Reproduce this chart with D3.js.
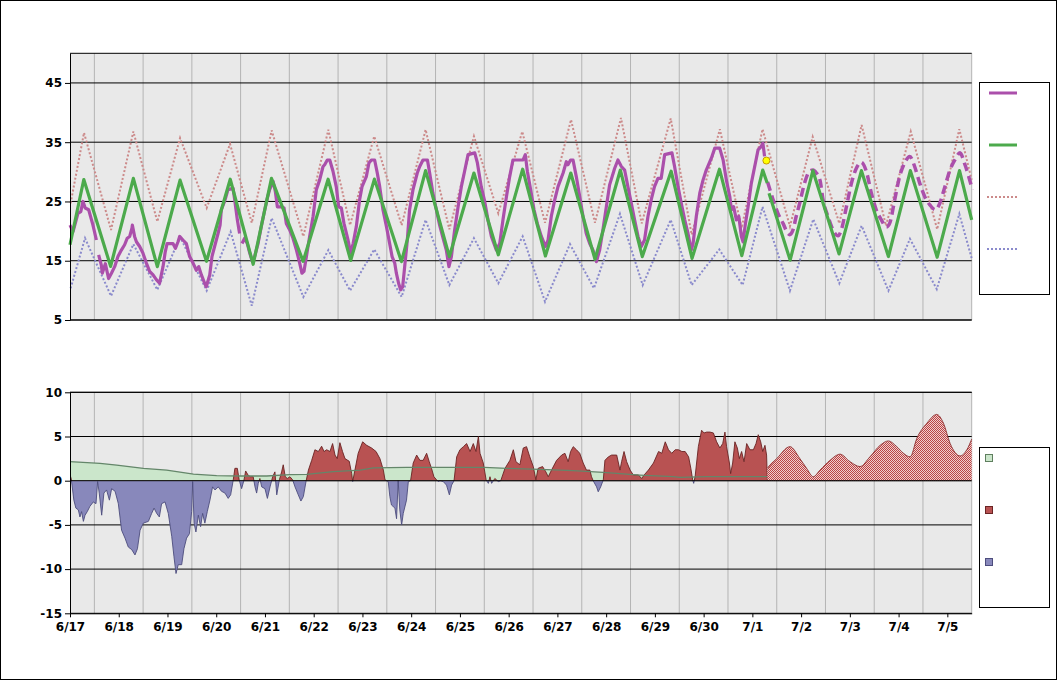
<!DOCTYPE html>
<html><head><meta charset="utf-8">
<script src="https://cdn.jsdelivr.net/npm/d3@7"></script>
<style>
body{margin:0;background:#fff}
svg{display:block}
text{font-family:"DejaVu Sans",Verdana,sans-serif;font-weight:bold;font-size:12px;fill:#000}
</style>
</head><body>
<svg id="c" width="1058" height="681"></svg>
<script>
// ---- data: [hours since 6/17 00:00, value] ----
const obsTemp = [[0,21.0],[1.5,19.9],[2.6,21.3],[3.9,23.0],[5.3,23.3],[6.4,25.0],[7.5,23.9],[9.2,23.6],[11.3,21.0],[13.0,18.5],null,
[14.1,16.0],[15.4,14.3],[15.9,12.9],[17.4,14.5],[19.0,12.0],[20.4,12.9],[22.0,14.0],[23.6,15.7],[25.3,16.8],[26.9,17.7],[28.2,18.8],[29.4,19.1],[30.5,20.5],[30.7,21.0],[31.8,19.1],[32.7,18.2],[34.3,17.4],[35.9,16.3],[37.6,14.6],[39.2,13.2],[40.9,12.6],[42.5,11.8],[44.1,11.2],[45.8,14.0],[46.9,16.5],[47.8,17.9],[49.1,17.9],[50.7,17.9],[51.9,17.1],[53.2,18.2],[54.0,19.1],[55.6,18.5],[57.3,17.9],[58.9,15.7],[60.6,14.6],[62.2,13.4],[63.4,14.0],[64.7,12.6],[66.3,11.2],[67.1,10.6],[68.8,12.6],[69.9,15.7],[71.2,17.4],[72.9,19.6],[73.9,21.0],[74.5,23.6],[76.1,25.0],[77.8,27.0],[80.3,27.2],[81.1,25.3],[82.4,21.9],[83.5,19.6],null,
[84.7,17.9],[86.0,18.8],[87.3,17.9],[88.5,16.3],[89.8,14.85],[90.9,15.7],[92.6,17.9],[94.2,20.8],[95.9,23.6],[97.2,25.6],[98.3,27.0],[100,28.4],[101.1,26.7],[102.1,24.1],[104.1,24.1],[105.4,23.9],[106.5,21.3],[108.2,20.2],[109.8,18.8],[111.5,16.8],[113.1,14.6],[114.2,12.9],[115.2,13.2],[116.4,15.7],[118.0,19.1],[119.7,22.5],[121.3,27.0],[122.9,28.6],[124.6,30.9],[125.4,31.2],[126.7,32.0],[127.9,32.0],[129.5,30.1],[131.1,27.5],[132.3,24.1],[133.6,23.9],[134.9,21.3],[136.9,18.5],[138.2,16.3],[139.4,17.9],[141.0,20.8],[142.6,25.3],[143.8,27.5],[145.9,29.2],[147.2,31.5],[148.4,32.0],[150,32.0],[151.3,29.8],[152.5,27.5],[154.1,23.6],[155.8,20.8],[157.4,17.9],[158.6,15.7],[159.9,14.6],[160.7,12.9],[161.8,11.2],[162.8,10.1],[163.8,10.6],[164.8,14.0],[166.1,18.5],[167.2,23.6],[168.9,27.0],[171,29.8],[172.2,30.9],[173.8,32.0],[176.0,32.0],[177.1,29.8],[178.7,26.4],[180.4,23.6],[182.0,21.0],[183.7,18.8],[185.3,16.8],[186.6,14.0],[187.8,15.7],[189.4,20.2],[191.1,24.1],[192.7,27.5],[194.3,30.1],[196.0,32.9],[199.3,33.2],[200.6,31.5],[202.5,27.5],[204.2,25.0],[205.8,21.9],[207.5,19.1],[209.9,16.8],[211.6,17.9],[213.2,21.9],[214.9,25.8],[216.5,29.2],[218.1,32.0],[223.1,32.0],[224.2,32.9],[225.2,30.1],[226.8,27.0],[228.5,23.6],[230.1,21.3],[232.1,19.1],[234.1,17.4],[235.4,18.5],[237,22.5],[238.7,25.3],[240.3,27.5],[242.8,29.8],[244.4,31.7],[245.2,31.2],[246.5,32.0],[247.7,32.0],[249.3,29.2],[251.0,25.8],[252.6,22.5],[254.2,19.6],[255.9,17.9],[257.5,16.8],[259.2,14.85],[260.8,16.8],[262.4,20.2],[264.1,24.1],[265.7,27.8],[268.2,30.6],[269.8,32.0],[271.5,30.9],[273.1,30.3],[274.7,27.5],[276.4,24.7],[278.0,21.9],[279.7,19.1],[281.3,17.4],[282.9,18.5],[284.6,22.5],[286.2,25.3],[287.8,27.5],[289.5,28.9],[291.1,28.9],[292.8,32.9],[296.4,33.2],[297.7,30.9],[299.4,27.5],[301,24.7],[302.7,21.9],[304.3,19.6],[305.9,16.8],[306.8,17.9],[308.4,22.5],[310.1,26.4],[311.7,28.6],[313.3,30.3],[315.8,32.3],[317.5,34.0],[319.9,34.0],[321.6,32.0],[323.2,28.6],[324.9,25.8],[325.7,23.6],[326.8,24.1],[328.1,21.9],[329.3,22.5],[330.6,19.1],[331.4,18.2],[332.6,21.3],[333.9,24.1],[335.5,28.1],[337.5,31.5],[338.8,33.7],[340.4,34.3],[341.2,34.8],[342.0,32.6]];

const forecastTemp = [[343.5,28.3],[346.2,25.3],[348.6,23.0],[351.1,21.3],[353.5,19.6],[354.4,19.4],[356,20.2],[357.6,22.5],[359.3,24.7],[361.7,28.1],[364.2,30.1],[365.9,30.3],[367.5,29.8],[369.3,28.6],[370.8,25.3],[373.2,22.5],[375.7,20.2],[378.2,19.2],[379.8,20.2],[382.3,24.1],[384.8,28.1],[387.2,30.6],[389.6,31.6],[392.1,30.1],[394.6,26.4],[397.0,23.6],[399.5,21.9],[402,20.7],[403.6,21.3],[406.1,25.3],[408.5,29.2],[411,31.5],[413.5,32.6],[415.9,30.9],[418.4,28.1],[420.9,25.8],[423.4,24.4],[426.2,23.6],[428.3,24.7],[430.8,27.5],[433.3,30.3],[435.7,32.0],[438.2,33.2],[440.7,31.2],[444.3,27.0]];

const currentTemp = [342.9, 31.9];

const normalObs = [[0,17.7],[6.8,28.7],[20.0,14.05],[31.2,28.9],[43,14.0],[54.2,28.6],[67.2,14.9],[78.9,28.75],[90.2,14.4],[99.2,28.9],[114.8,14.9],[127.1,28.75],[138.2,15.05],[149.9,28.77],[163.2,14.85],[175.1,30.2],[186.8,15.7],[198.9,29.8],[210.9,16.0],[222.9,30.45],[234.1,15.8],[246.6,29.8],[258.5,15.25],[271.0,30.3],[281.8,15.7],[296,30.1],[306.3,15.4],[319.8,30.45],[330.8,15.86],[341.1,30.3],[343.3,28.1]];
const normalFc = [[344.2,26.4],[354.6,15.1],[365.8,30.2],[378.7,16.15],[389.7,30.2],[403.0,15.7],[413.8,30.2],[427,15.6],[438,30.2],[444,21.9]];

const recordHigh = [[0.3,24.7],[6.9,36.6],[20.2,20.2],[31.2,36.8],[43,21.6],[54.2,35.7],[67.3,23.9],[78.8,34.7],[89.5,21.4],[99.3,37.0],[114.9,19.1],[127.2,37.1],[137.9,21.0],[149.8,36.0],[163.3,21.0],[175.1,37.1],[186.8,20.3],[198.9,36.0],[210.9,23.0],[222.7,36.8],[233.9,21.4],[246.7,38.8],[258.5,21.4],[271.3,39.1],[281.5,21.3],[295.8,39.0],[306.1,19.4],[320,37.2],[330.7,20.5],[341,37.2],[354.5,20.8],[365.7,35.9],[378.8,21.3],[389.8,37.9],[401.8,20.9],[414,36.8],[427,20.3],[437.9,37.2],[444,28.65]];

const recordLow = [[0.3,10.35],[7.4,18.8],[20.2,9.05],[31.2,17.8],[43,10.1],[54.2,19.0],[67.3,9.95],[79.1,19.9],[89.5,7.4],[99.3,22.2],[114.9,8.9],[127.2,16.8],[137.9,9.95],[149.8,16.9],[163.3,8.9],[175.1,21.9],[186.8,10.9],[198.9,18.8],[210.9,11.2],[222.9,19.1],[233.9,8.1],[246.2,17.8],[258,10.35],[270.8,22.9],[282,10.9],[295.8,21.9],[306.1,10.9],[319.7,16.9],[331.2,10.9],[341,24.1],[354.5,9.95],[366,22.0],[378.8,11.2],[389.8,20.9],[403,9.95],[413.6,18.7],[426.8,10.2],[437.9,22.9],[444,15.4]];

const departure = [[0,0.7],[0.6,0.2],[1.0,-0.5],[1.9,-2.2],[2.9,-3.1],[4.1,-3.3],[4.9,-4.1],[5.7,-3.5],[6.6,-4.6],[7.4,-3.9],[8.5,-3.5],[9.8,-2.9],[11.5,-2.4],[12.8,-2.6],[13.6,-0.1],[14.4,-1.4],[15.6,-3.9],[16.7,-1.4],[18.0,-1.05],[19.4,-2.2],[20.5,-0.9],[22.2,-1.2],[23.8,-2.6],[25.4,-5.6],[27.1,-6.5],[28.7,-7.5],[30.4,-7.8],[32,-8.4],[33.2,-7.7],[34.5,-5.6],[36.1,-4.8],[38.6,-4.6],[40.2,-3.7],[41.4,-3.1],[42.7,-3.7],[44.0,-4.1],[45.1,-2.6],[46.8,-2.4],[48.4,-3.7],[50.1,-6.3],[51.2,-8.6],[52.2,-10.5],[53.3,-9.5],[55.0,-9.5],[56.1,-7.7],[57.4,-6.5],[58.8,-6.0],[59.9,-3.5],[60.4,-0.1],[61.1,-4.8],[62.0,-5.8],[63.2,-3.9],[64.3,-5.2],[65.3,-3.7],[66.4,-4.8],[67.6,-3.5],[68.9,-2.2],[70.2,-0.7],[71.4,-1.05],[73,-0.7],[74.6,-1.2],[76.3,-1.4],[77.9,-2.0],[79.1,-1.6],[80.4,0.1],[81.2,1.4],[82.4,1.4],[83.3,0.1],[84.5,-0.9],[85.6,0],[86.5,1.1],[87.8,0.6],[88.9,0.45],[90.2,0.45],[91.1,-0.7],[91.9,-1.4],[92.7,-0.3],[93.5,0.25],[94.4,-0.7],[96.0,-0.9],[97.2,-2.0],[98.5,-0.7],[99.8,0.45],[100.9,1.0],[101.8,-1.6],[103.1,0.1],[104.2,1.0],[105.0,1.8],[106,0.45],[107,0.25],[108.3,0.45],[109.6,0.1],[110.8,-0.7],[112.4,-1.6],[113.7,-2.3],[114.9,-1.8],[116.2,-0.1],[117.4,1.2],[119,2.3],[120.6,3.5],[122.3,3.3],[123.9,3.9],[125.1,3.3],[126.4,3.5],[128,3.3],[129.3,4.2],[130.5,2.9],[131.6,2.5],[132.9,4.3],[134.2,3.3],[135.4,2.5],[137.5,2.2],[138.7,0.8],[139.2,-0.1],[140.3,1.2],[141.9,3.1],[144.1,4.4],[146.1,4.0],[148.5,3.7],[150.7,3.3],[152.6,2.5],[154.3,1.2],[155.1,0.1],[156.7,-0.1],[157.5,-1.8],[158.3,-2.75],[160,-3.1],[160.8,-4.3],[161.6,0],[162.4,-3.3],[163.3,-5.0],[164.1,-3.7],[165.7,-2.2],[166.6,-0.1],[167.7,0],[169,2.0],[170.7,2.9],[172.3,2.3],[173.9,2.3],[175.6,3.1],[176.9,2.15],[178,1.4],[179.2,0.45],[180.5,0.1],[181.3,-0.1],[182.2,0],[183.8,-0.1],[185.4,-0.5],[186.8,-1.6],[187.9,-0.5],[189.1,0],[190.4,2.7],[192,3.5],[193.7,3.85],[195.3,4.2],[197,3.3],[198.6,4.2],[199.9,3.3],[201.1,5.0],[201.9,3.1],[203.5,2.0],[204.9,0.1],[206,-0.3],[206.8,0.45],[207.6,-0.3],[209.2,0.25],[210.9,-0.1],[212.1,0],[214.2,1.4],[216.6,2.3],[218.3,3.5],[219.6,2.15],[221.5,1.8],[223.2,3.7],[224.8,3.85],[226.4,2.7],[228.1,1.6],[229.4,0.1],[230.5,1.4],[232.7,1.6],[234.3,1.0],[235.5,0.45],[237.1,1.2],[239.6,2.3],[242.1,2.9],[243.7,3.1],[245.3,2.15],[246.5,3.3],[247.8,3.85],[249.4,3.5],[251,3.1],[252.7,2.0],[254.3,1.2],[256,1.2],[256.8,0.45],[257.6,0],[259.3,-0.7],[260.1,-1.25],[261.3,-0.7],[262.6,0.1],[263.4,2.3],[265.1,2.7],[266.7,2.9],[269.2,2.9],[270.8,1.2],[271.6,2.15],[272.8,3.3],[274.1,2.15],[275.8,1.2],[277.4,0.65],[279.9,0.65],[281.5,0.25],[282.7,0.65],[284.8,1.2],[287.3,2.0],[289.8,3.3],[291.4,3.1],[293.1,4.4],[294.7,3.5],[296.3,3.1],[298,3.5],[299.6,3.5],[301.3,3.3],[302.9,3.3],[304.6,2.7],[305.7,1.4],[306.6,0.1],[307.1,-0.3],[307.8,0.45],[309.4,3.85],[311.0,5.7],[312.2,5.4],[313.5,5.5],[315.1,5.5],[316.8,5.4],[318.4,4.4],[320,3.7],[321.4,4.2],[322.5,5.5],[323.3,3.85],[324.7,2.0],[325.3,0.8],[326.3,2.0],[327.4,4.4],[328.6,3.7],[329.6,2.5],[330.7,3.3],[331.9,2.15],[333.2,4.2],[334.8,3.5],[336.5,3.5],[337.8,4.2],[338.9,5.2],[340.1,4.4],[341.1,3.3],[342.2,4.0],[343,2.9],[343.4,0]];

const forecastDeparture = [[343.4,0],[343.4,1.4],[348,2.5],[354.5,3.85],[359.4,2.5],[362.7,1.4],[366,0.45],[369.3,1.2],[374.2,2.3],[379.2,3.0],[384.1,2.15],[389,1.6],[393.9,2.7],[398.9,4.0],[403,4.5],[407.1,3.85],[410.4,3.1],[413.7,2.7],[417,4.8],[421.9,6.5],[426.8,7.5],[430.1,6.5],[433.4,4.2],[438.3,2.8],[441.6,3.5],[444,4.7]];

const meanDeparture = [[0,2.15],[14.8,1.96],[23,1.77],[36.1,1.4],[47.6,1.2],[60.8,0.75],[72.2,0.57],[83.7,0.53],[96.8,0.53],[108.3,0.68],[116.5,0.72],[129.6,1.02],[142.8,1.2],[149.4,1.45],[165.8,1.5],[182.2,1.5],[204,1.5],[215.2,1.4],[231.4,1.28],[247.8,1.13],[262.6,0.94],[280.6,0.64],[297,0.45],[300.4,0.38],[313.5,0.45],[343.2,0.45]];

const topTicks = [5,15,25,35,45];
const bottomTicks = [-15,-10,-5,0,5,10];

// ---- drawing ----
const base = new Date(2024,5,17,0,0,0);
const T = h => new Date(base.getTime() + h*3600000);
const svg = d3.select('#c');
const L = 70, R = 971.7;
const x = d3.scaleTime().domain([T(0), T(444)]).range([L, R]);
const yT = d3.scaleLinear().domain([5,50]).range([320,53.3]);
const yB = d3.scaleLinear().domain([-15,10]).range([613.3,392.3]);

svg.append('rect').attr('x',0.5).attr('y',0.5).attr('width',1056).attr('height',679)
  .attr('fill','#fff').attr('stroke','#000');

const defs = svg.append('defs');
const pat = defs.append('pattern').attr('id','hatch').attr('patternUnits','userSpaceOnUse')
  .attr('width',2).attr('height',2);
pat.append('rect').attr('width',2).attr('height',2).attr('fill','#f2cccc');
pat.append('rect').attr('x',0).attr('y',0).attr('width',1).attr('height',1).attr('fill','#b84444');
pat.append('rect').attr('x',1).attr('y',1).attr('width',1).attr('height',1).attr('fill','#b84444');

defs.append('clipPath').attr('id','pos').append('rect')
  .attr('x',L).attr('y',yB(10)).attr('width',R-L).attr('height',yB(0)-yB(10));
defs.append('clipPath').attr('id','neg').append('rect')
  .attr('x',L).attr('y',yB(0)).attr('width',R-L).attr('height',yB(-15)-yB(0));

const days = d3.range(0,19);
function panel(y, ticks) {
  const [b, t] = y.range();
  const g = svg.append('g');
  g.append('rect').attr('x',L).attr('y',t).attr('width',R-L).attr('height',b-t).attr('fill','#e9e9e9');
  g.selectAll('.vg').data(days).join('line')
    .attr('x1',d=>x(T(d*24+12))).attr('x2',d=>x(T(d*24+12)))
    .attr('y1',t).attr('y2',b).attr('stroke','#b4b4b4').attr('stroke-width',1);
  const hv = ticks.concat([y.domain()[1]]);
  g.selectAll('.hg').data(hv).join('line')
    .attr('x1',L).attr('x2',R).attr('y1',d=>y(d)).attr('y2',d=>y(d))
    .attr('stroke','#000').attr('stroke-width',1);
  return g;
}
function yAxis(y, ticks) {
  const a = svg.append('g').attr('transform',`translate(${L},0)`)
    .call(d3.axisLeft(y).tickValues(ticks).tickSize(5).tickSizeOuter(0).tickPadding(3).tickFormat(d=>String(d)));
  a.select('.domain').attr('stroke','#000');
  a.selectAll('text').attr('font-size',null).attr('font-family',null);
}

panel(yT, topTicks);
panel(yB, bottomTicks);

// top chart lines
const line = d3.line().defined(d=>d).x(d=>x(T(d[0]))).y(d=>yT(d[1]));
svg.append('path').attr('d',line(recordHigh)).attr('fill','none').attr('stroke','#cc8a8a')
  .attr('stroke-width',2).attr('stroke-dasharray','2,2');
svg.append('path').attr('d',line(recordLow)).attr('fill','none').attr('stroke','#8a8acc')
  .attr('stroke-width',2).attr('stroke-dasharray','2,2');
svg.append('path').attr('d',line(obsTemp)).attr('fill','none').attr('stroke','#ab4fab')
  .attr('stroke-width',3.2).attr('stroke-linejoin','round');
svg.append('path').attr('d',d3.line().x(d=>x(T(d[0]))).y(d=>yT(d[1])).curve(d3.curveMonotoneX)(forecastTemp))
  .attr('fill','none').attr('stroke','#ab4fab').attr('stroke-width',3.5).attr('stroke-dasharray','9,5');
[normalObs, normalFc].forEach(n => svg.append('path').attr('d',line(n)).attr('fill','none')
  .attr('stroke','#4caa4c').attr('stroke-width',3.2).attr('stroke-linejoin','round'));
svg.append('circle').attr('cx',x(T(currentTemp[0]))).attr('cy',yT(currentTemp[1])).attr('r',3.5)
  .attr('fill','#ffff00').attr('stroke','#c89a00').attr('stroke-width',1);

// bottom chart
const areaB = d3.area().x(d=>x(T(d[0]))).y0(yB(0)).y1(d=>yB(d[1]));
const lineB = d3.line().x(d=>x(T(d[0]))).y(d=>yB(d[1]));
svg.append('path').attr('d',areaB(meanDeparture)).attr('fill','#cbe6cb');
svg.append('path').attr('d',areaB(departure)).attr('fill','#b85252').attr('clip-path','url(#pos)');
svg.append('path').attr('d',areaB(departure)).attr('fill','#8888bb').attr('clip-path','url(#neg)');
svg.append('path').attr('d',lineB(departure)).attr('fill','none').attr('stroke','#6a2424')
  .attr('stroke-width',0.9).attr('clip-path','url(#pos)');
svg.append('path').attr('d',lineB(departure)).attr('fill','none').attr('stroke','#4d4d7d')
  .attr('stroke-width',0.9).attr('clip-path','url(#neg)');
const areaF = d3.area().x(d=>x(T(d[0]))).y0(yB(0)).y1(d=>yB(d[1])).curve(d3.curveMonotoneX);
svg.append('path').attr('d',areaF(forecastDeparture)).attr('fill','url(#hatch)');
svg.append('path').attr('d',d3.line().x(d=>x(T(d[0]))).y(d=>yB(d[1])).curve(d3.curveMonotoneX)(forecastDeparture.slice(1)))
  .attr('fill','none').attr('stroke','#8c3030').attr('stroke-width',0.9);
svg.append('path').attr('d',lineB(meanDeparture)).attr('fill','none').attr('stroke','#64866a').attr('stroke-width',1.3);
svg.append('line').attr('x1',L).attr('x2',R).attr('y1',yB(0)).attr('y2',yB(0)).attr('stroke','#000');

// axes
yAxis(yT, topTicks);
yAxis(yB, bottomTicks);
svg.append('line').attr('x1',L).attr('x2',R).attr('y1',yT(5)).attr('y2',yT(5)).attr('stroke','#000');
const xa = svg.append('g').attr('transform',`translate(0,${yB(-15)})`)
  .call(d3.axisBottom(x).ticks(d3.timeDay.every(1)).tickFormat(d3.timeFormat('%-m/%-d'))
    .tickSize(4).tickSizeOuter(0).tickPadding(5));
xa.select('.domain').attr('stroke','#000');
xa.selectAll('text').attr('font-size',null).attr('font-family',null);

// legends (no visible labels in reference)
svg.append('rect').attr('x',979.5).attr('y',82.5).attr('width',70).attr('height',212)
  .attr('fill','#fff').attr('stroke','#000');
svg.append('rect').attr('x',979.5).attr('y',447.5).attr('width',70).attr('height',160)
  .attr('fill','#fff').attr('stroke','#000');
const legTop = [
  {y:93, c:'#ab4fab', w:3, dash:null, x1:989},
  {y:145, c:'#4caa4c', w:3, dash:null, x1:989},
  {y:197, c:'#cc8a8a', w:2, dash:'2,2', x1:987},
  {y:249, c:'#8a8acc', w:2, dash:'2,2', x1:987}
];
legTop.forEach(d => svg.append('line').attr('x1',d.x1).attr('x2',1017).attr('y1',d.y).attr('y2',d.y)
  .attr('stroke',d.c).attr('stroke-width',d.w).attr('stroke-dasharray',d.dash));
const legBot = [
  {y:458, f:'#cbe6cb', s:'#5f7f5f'},
  {y:510, f:'#b85252', s:'#6a2424'},
  {y:562, f:'#8888bb', s:'#4d4d7d'}
];
legBot.forEach(d => svg.append('rect').attr('x',985.5).attr('y',d.y-3.5).attr('width',7).attr('height',7)
  .attr('fill',d.f).attr('stroke',d.s));
</script>
</body></html>
